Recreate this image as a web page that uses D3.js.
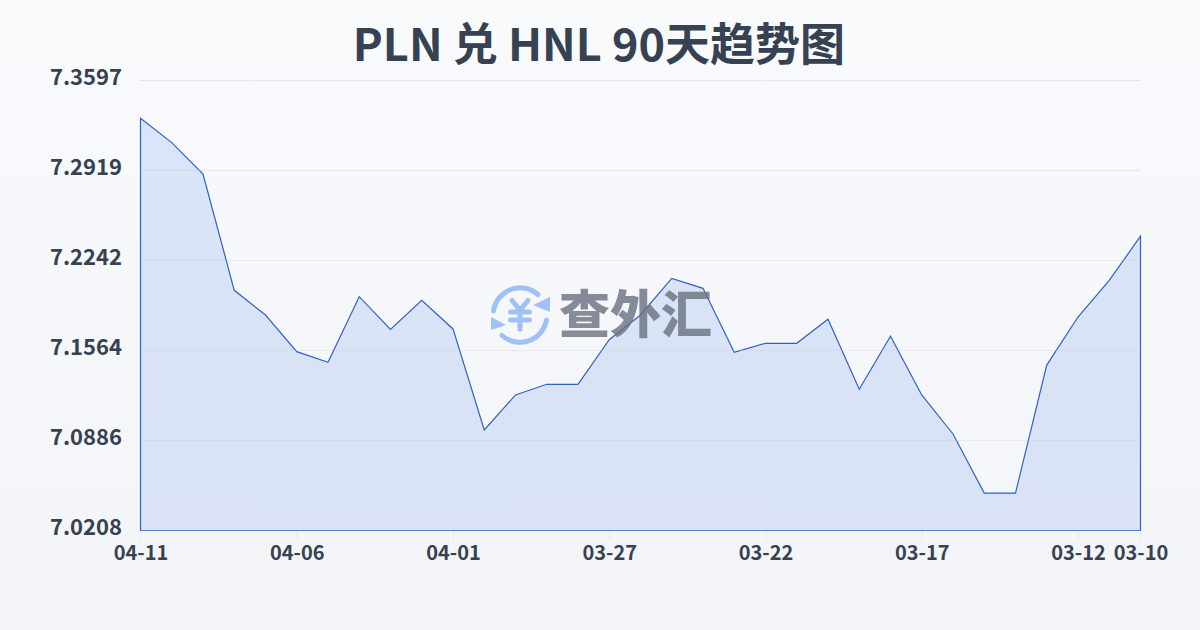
<!DOCTYPE html>
<html>
<head>
<meta charset="utf-8">
<script src="https://cdn.jsdelivr.net/npm/d3@7/dist/d3.min.js"></script>
<style>
html,body{margin:0;padding:0;width:1200px;height:630px;overflow:hidden;background:#f8fafc}
svg{display:block}
</style>
</head>
<body>
<svg id="chart" width="1200" height="630"></svg>
<script>
const titleText = "PLN 兑 HNL 90天趋势图";
const watermarkText = "查外汇";
const dates = ["04-11","04-10","04-09","04-08","04-07","04-06","04-05","04-04","04-03","04-02","04-01",
  "03-31","03-30","03-29","03-28","03-27","03-26","03-25","03-24","03-23","03-22","03-21","03-20",
  "03-19","03-18","03-17","03-16","03-15","03-14","03-13","03-12","03-11","03-10"];
const rates = [7.3312,7.3129,7.2893,7.2017,7.1831,7.1555,7.1475,7.1969,7.1723,7.1942,7.1726,
  7.0965,7.1229,7.1309,7.1309,7.1645,7.1831,7.2107,7.2032,7.1550,7.1618,7.1618,7.1799,
  7.1272,7.1671,7.1229,7.0935,7.0490,7.0490,7.1454,7.1816,7.2092,7.2424];
const yTicks = [7.3597,7.2919,7.2242,7.1564,7.0886,7.0208];
const xTicks = ["04-11","04-06","04-01","03-27","03-22","03-17","03-12","03-10"];

const svg = d3.select("#chart");
const defs = svg.append("defs");
const bg = defs.append("linearGradient").attr("id","bg").attr("x1",0).attr("y1",0).attr("x2",0).attr("y2",1);
bg.append("stop").attr("offset","0%").attr("stop-color","#f8fafc");
bg.append("stop").attr("offset","100%").attr("stop-color","#f2f4f7");
const fg = defs.append("linearGradient").attr("id","fill").attr("x1",0).attr("y1",0).attr("x2",0).attr("y2",1);
fg.append("stop").attr("offset","0%").attr("stop-color","#d8e4f8");
fg.append("stop").attr("offset","100%").attr("stop-color","#d9e1f4");

svg.append("rect").attr("width",1200).attr("height",630).attr("fill","url(#bg)");

const x = d3.scalePoint().domain(dates).range([140.5,1140.5]);
const y = d3.scaleLinear().domain([7.0208,7.3597]).range([530.5,80.5]);

const ink = "#364152";
const sans = "'Noto Sans CJK SC',sans-serif";

svg.append("g").selectAll("line").data(yTicks).join("line")
  .attr("x1",140).attr("x2",1140)
  .attr("y1",d=>y(d)).attr("y2",d=>y(d))
  .attr("stroke","#e5e8ee").attr("stroke-width",1);

const xAxis = svg.append("g").attr("transform","translate(0,530.5)")
  .call(d3.axisBottom(x).tickValues(xTicks).tickSize(10).tickPadding(3));
xAxis.select(".domain").remove();
xAxis.selectAll("line").attr("stroke","#e5e8ee");
xAxis.selectAll("text").attr("font-family",sans).attr("font-weight",700)
  .attr("font-size",20).attr("fill",ink).attr("dy","0.82em");

const yAxis = svg.append("g").attr("transform","translate(140.5,0)")
  .call(d3.axisLeft(y).tickValues(yTicks).tickFormat(d3.format(".4f")).tickSize(0).tickPadding(19));
yAxis.select(".domain").remove();
yAxis.selectAll("text").attr("font-family",sans).attr("font-weight",700)
  .attr("font-size",22).attr("fill",ink).attr("dy","0.2em").attr("dx",0.5);

const area = d3.area().x((d,i)=>x(dates[i])).y0(y(7.0208)).y1(d=>y(d));
svg.append("path").datum(rates).attr("d",area)
  .attr("fill","url(#fill)").attr("fill-opacity",0.97)
  .attr("stroke","#2f62c8").attr("stroke-width",1.2).attr("stroke-linejoin","miter");

svg.append("g").selectAll("line").data(yTicks).join("line")
  .attr("x1",141).attr("x2",1140)
  .attr("y1",d=>y(d)).attr("y2",d=>y(d))
  .attr("stroke","#c9d3e8").attr("stroke-opacity",0.5)
  .attr("clip-path","url(#areaClip)");
defs.append("clipPath").attr("id","areaClip").append("path").datum(rates).attr("d",area);

const wm = svg.append("g").attr("opacity",0.95);
const icon = wm.append("g").attr("transform","translate(520,315)")
  .attr("fill","none").attr("stroke","#9cbff7").attr("stroke-linecap","round");
icon.append("path").attr("stroke-width",5).attr("d","M-26.5,-4 A27,27 0 0 1 18,-20.5");
icon.append("path").attr("stroke-width",5).attr("d","M26.5,5 A27,27 0 0 1 -18,20.5");
icon.append("path").attr("fill","#9cbff7").attr("stroke","none").attr("d","M30,-18 L30,-3 L13,-10 Z");
icon.append("path").attr("fill","#9cbff7").attr("stroke","none").attr("d","M-29,2 L-29,15 L-14,10 Z");
icon.append("path").attr("stroke-width",5).attr("d","M-8,-14.5 L0,-5 L8,-14.5 M-9.5,-3 L9.5,-3 M-9.5,5 L9.5,5 M0,-5 L0,14");
wm.append("text").text(watermarkText).attr("x",559).attr("y",333)
  .attr("font-family","'Noto Sans CJK SC',sans-serif").attr("font-weight",900)
  .attr("font-size",51).attr("fill","#6b7280").attr("fill-opacity",0.85);

svg.append("text").text(titleText).attr("x",599).attr("y",61).attr("text-anchor","middle")
  .attr("font-family",sans).attr("font-weight",700)
  .attr("font-size",45).attr("fill",ink);
</script>
</body>
</html>
